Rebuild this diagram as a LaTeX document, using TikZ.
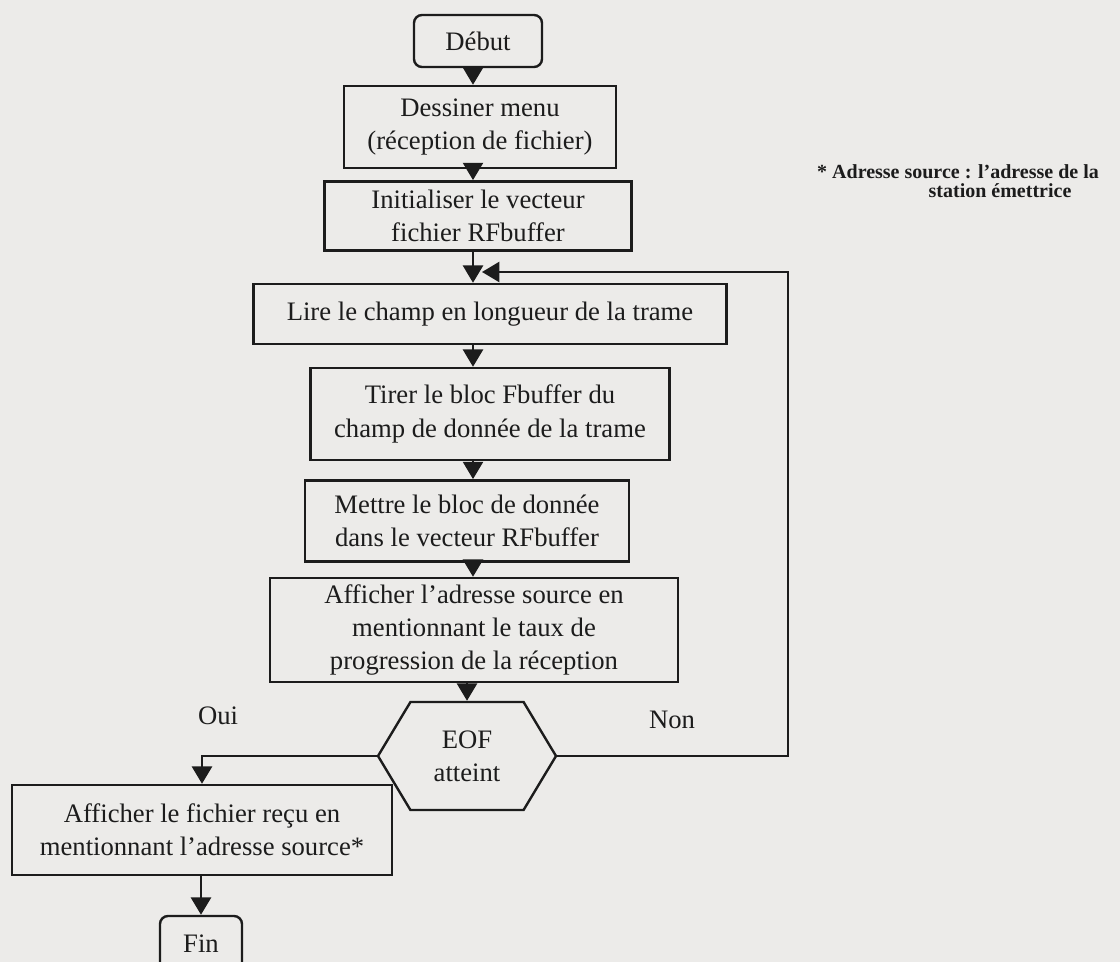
\documentclass[tikz,border=0pt]{standalone}
\usepackage{fontspec}
\setmainfont{Liberation Serif}
\usetikzlibrary{arrows.meta,shapes.symbols}
\definecolor{paper}{RGB}{236,235,233}
\definecolor{ink}{RGB}{28,28,28}
\begin{document}
\begin{tikzpicture}[x=0.75pt,y=-0.75pt,
    box/.style={draw=ink,line width=1.8pt,align=center,text=ink,
      font=\fontsize{20}{25}\selectfont,inner sep=2pt},
    term/.style={box,rounded corners=6pt},
    note/.style={text=ink,font=\bfseries\fontsize{15}{16}\selectfont,inner sep=0pt},
    flow/.style={draw=ink,line width=1.8pt,-{Triangle[width=15pt,length=13pt]}}]
        \fill[paper] (0,0) rectangle (1120,962);
        \clip (0,0) rectangle (1120,962);
        \coordinate (col) at (473,0);
        \coordinate (loopx) at (788,0);
        \coordinate (merge) at (482,272);
        \node[term,minimum width=96pt,minimum height=39pt] (debut) at (478,41) {Début};
        \node[box,minimum width=204pt,minimum height=61.5pt] (dessin) at (480,127) {Dessiner menu\\(réception de fichier)};
        \node[box,minimum width=230pt,minimum height=52pt] (init) at (478,216) {Initialiser le vecteur\\fichier RFbuffer};
        \node[box,minimum width=355pt,minimum height=45pt] (lire) at (490,314) {Lire le champ en longueur de la trame};
        \node[box,minimum width=269pt,minimum height=69pt] (tirer) at (490,414) {Tirer le bloc Fbuffer du\\champ de donnée de la trame};
        \node[box,minimum width=243pt,minimum height=61pt] (mettre) at (467,521) {Mettre le bloc de donnée\\dans le vecteur RFbuffer};
        \node[box,minimum width=306pt,minimum height=78pt] (affadr) at (474,630) {Afficher l’adresse source en\\mentionnant le taux de\\progression de la réception};
        \node[box,signal,signal to=west and east,signal pointer angle=118,
              minimum width=133.5pt,minimum height=81pt] (eof) at (467,756) {EOF\\atteint};
        \node[box,minimum width=285pt,minimum height=67.5pt] (afffich) at (202,830) {Afficher le fichier reçu en\\mentionnant l’adresse source*};
        \node[term,minimum width=61.5pt,minimum height=42pt] (fin) at (201,944) {Fin};
        \node[text=ink,font=\fontsize{20}{25}\selectfont] (oui) at (218,716) {Oui};
        \node[text=ink,font=\fontsize{20}{25}\selectfont] (non) at (672,720) {Non};
        \node[note] (renvoi) at (958,172) {* Adresse source : l’adresse de la};
        \node[note] (renvoisuite) at (1000,191) {station émettrice};
        \draw[flow] (debut.south -| col) -- (dessin.north -| col);
        \draw[flow] (dessin.south -| col) -- (init.north -| col);
        \draw[flow] (init.south -| col) -- (lire.north -| col);
        \draw[flow] (lire.south -| col) -- (tirer.north -| col);
        \draw[flow] (tirer.south -| col) -- (mettre.north -| col);
        \draw[flow] (mettre.south -| col) -- (affadr.north -| col);
        \draw[flow] (affadr.south -| eof.north) -- (eof.north);
        \draw[flow] (eof.west) -| (afffich.north);
        \draw[flow] (eof.east) -- (eof.east -| loopx) |- (merge);
        \draw[flow] (afffich.south -| fin.north) -- (fin.north);
    \end{tikzpicture}
\end{document}
